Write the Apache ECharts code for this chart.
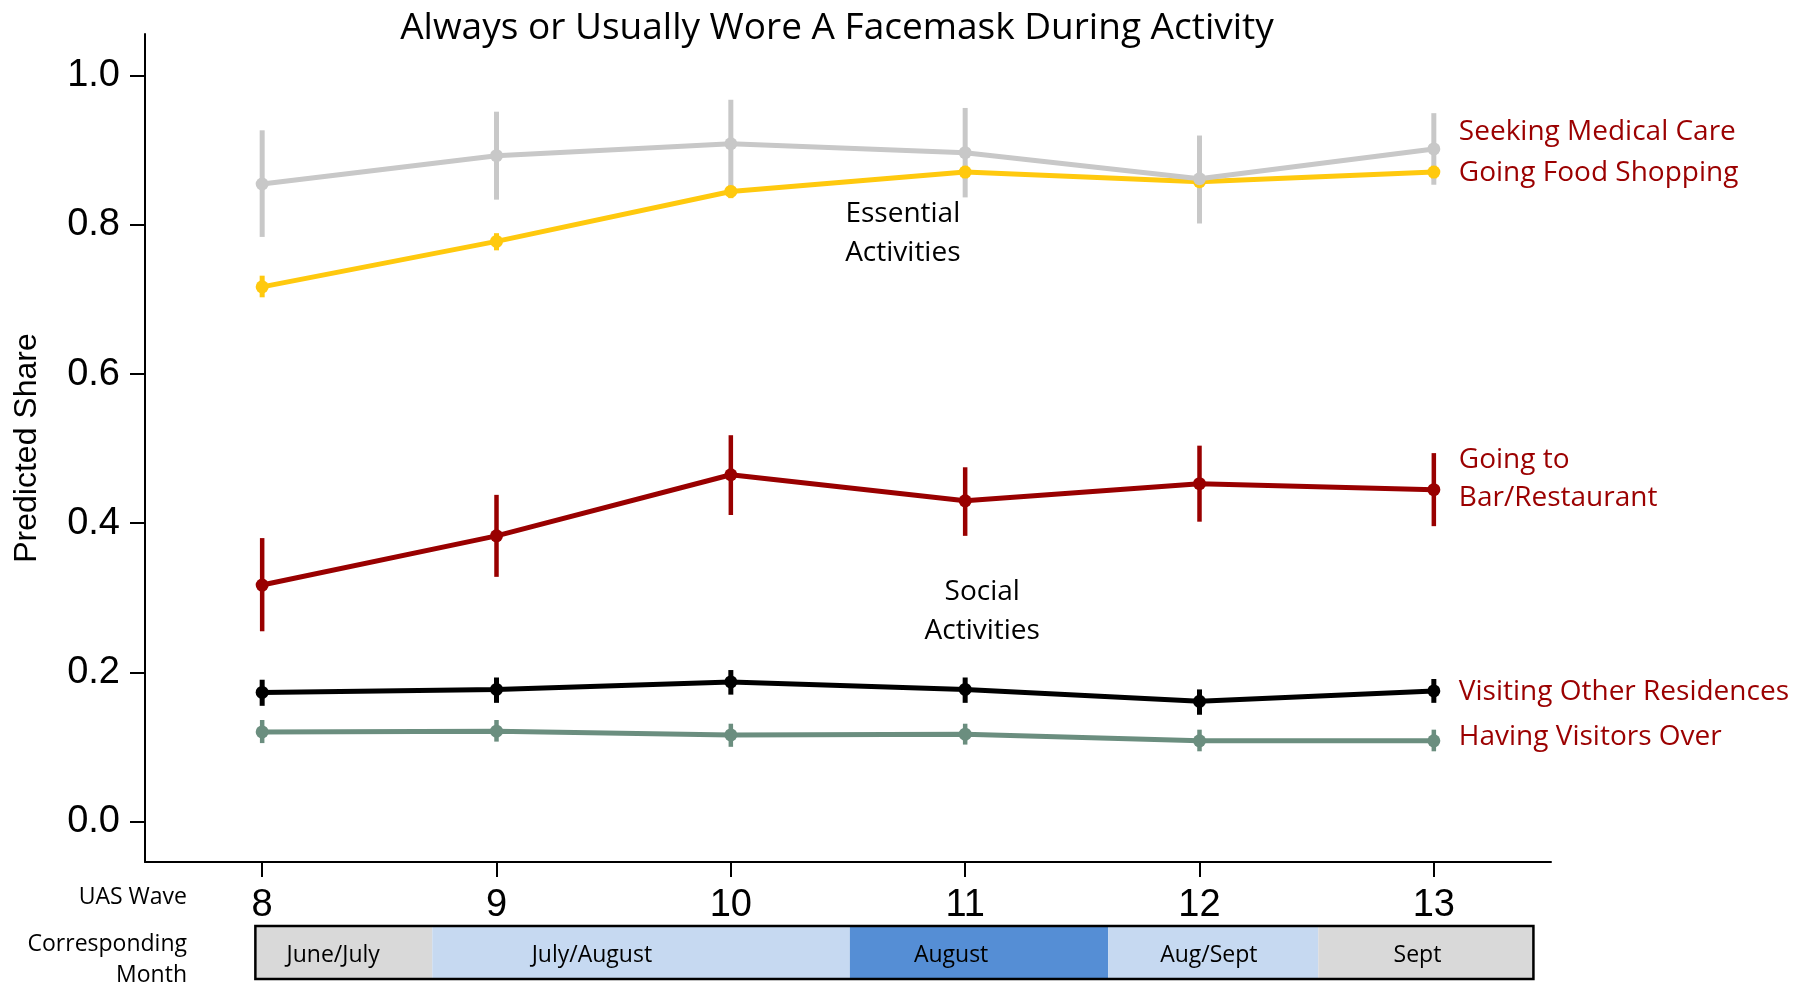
<!DOCTYPE html>
<html>
<head>
<meta charset="utf-8">
<title>Facemask</title>
<script src="https://cdn.jsdelivr.net/npm/echarts@6/dist/echarts.min.js"></script>
<style>
  html, body { margin: 0; padding: 0; background: #fff; }
  #chart { width: 1804px; height: 984px; }
</style>
</head>
<body>
<div id="chart"></div>
<script>
// UAS waves on the x axis
const waves = [8, 9, 10, 11, 12, 13];
const yTicks = [0, 0.2, 0.4, 0.6, 0.8, 1.0];

// predicted share + 95% bounds
const medical = [0.855, 0.893, 0.909, 0.897, 0.862, 0.902];
const medicalLo = [0.784, 0.834, 0.850, 0.837, 0.802, 0.854];
const medicalHi = [0.927, 0.952, 0.968, 0.957, 0.920, 0.950];

const food = [0.717, 0.778, 0.845, 0.871, 0.858, 0.871];
const foodLo = [0.703, 0.766, 0.836, 0.862, 0.849, 0.862];
const foodHi = [0.732, 0.789, 0.854, 0.880, 0.867, 0.880];

const barRest = [0.317, 0.383, 0.465, 0.430, 0.453, 0.445];
const barRestLo = [0.255, 0.328, 0.411, 0.383, 0.402, 0.396];
const barRestHi = [0.380, 0.438, 0.518, 0.475, 0.504, 0.494];

const visiting = [0.173, 0.177, 0.187, 0.177, 0.161, 0.175];
const visitingLo = [0.155, 0.159, 0.170, 0.159, 0.143, 0.159];
const visitingHi = [0.190, 0.193, 0.203, 0.193, 0.177, 0.191];

const visitors = [0.120, 0.121, 0.116, 0.117, 0.108, 0.108];
const visitorsLo = [0.105, 0.107, 0.100, 0.103, 0.094, 0.094];
const visitorsHi = [0.136, 0.136, 0.131, 0.131, 0.123, 0.123];

// corresponding month strip (in wave units)
const months = ["June/July", "July/August", "August", "Aug/Sept", "Sept"];
const monthStart = [7.971, 8.726, 10.508, 11.61, 12.507];
const monthEnd = [8.726, 10.508, 11.61, 12.507, 13.425];
const monthLabelX = [8.303, 9.407, 10.94, 12.04, 12.93];

// group notes inside the plot
const notes = ["Essential\nActivities", "Social\nActivities"];
const noteX = [10.734, 11.073];
const noteY = [0.788, 0.281];

const textFont = "Open Sans";
const axisFont = "Liberation Sans";
const labelRed = "#9b0000";
const monthColors = ["#d9d9d9", "#c6d9f1", "#558ed5", "#c6d9f1", "#d9d9d9"];

function pairs(vals) {
  return waves.map(function (w, i) { return [w, vals[i]]; });
}

function errorBars(lo, hi, color, width) {
  return {
    type: "custom",
    silent: true,
    data: waves.map(function (w, i) { return [w, lo[i], hi[i]]; }),
    renderItem: function (params, api) {
      const a = api.coord([api.value(0), api.value(1)]);
      const b = api.coord([api.value(0), api.value(2)]);
      return {
        type: "line",
        shape: { x1: a[0], y1: a[1], x2: b[0], y2: b[1] },
        style: { stroke: color, lineWidth: width },
      };
    },
  };
}

function lineSeries(name, vals, color, label, dy) {
  return {
    type: "line",
    name: name,
    data: pairs(vals),
    symbol: "circle",
    symbolSize: 13,
    itemStyle: { color: color },
    lineStyle: { color: color, width: 5 },
    endLabel: {
      show: true,
      formatter: label,
      color: labelRed,
      fontFamily: textFont,
      fontSize: 28,
      lineHeight: 38,
      distance: 25,
      offset: [0, dy],
    },
  };
}

const chart = echarts.init(document.getElementById("chart"));

const option = {
  animation: false,
  backgroundColor: "#fff",
  title: {
    text: "Always or Usually Wore A Facemask During Activity",
    left: 832,
    top: 5,
    textAlign: "center",
    textStyle: {
      fontFamily: textFont,
      fontSize: 37,
      fontWeight: "normal",
      color: "#000",
    },
  },
  grid: [
    { left: 145, right: 253, top: 34, bottom: 122 },
    { left: 145, right: 253, top: 926, height: 53 },
  ],
  xAxis: [
    {
      type: "value",
      gridIndex: 0,
      min: 7.5,
      max: 13.5,
      splitLine: { show: false },
      axisLine: { onZero: false, lineStyle: { color: "#000", width: 2 } },
      axisTick: { customValues: waves, length: 15, lineStyle: { color: "#000", width: 2 } },
      axisLabel: {
        customValues: waves,
        margin: 25,
        fontFamily: axisFont,
        fontSize: 38,
        color: "#000",
      },
    },
    { type: "value", gridIndex: 1, min: 7.5, max: 13.5, show: false },
  ],
  yAxis: [
    {
      type: "value",
      gridIndex: 0,
      min: -0.0545,
      max: 1.0562,
      name: "Predicted Share",
      nameLocation: "middle",
      nameGap: 102,
      nameTextStyle: { fontFamily: axisFont, fontSize: 32, color: "#000" },
      splitLine: { show: false },
      axisLine: { show: true, onZero: false, lineStyle: { color: "#000", width: 2 } },
      axisTick: { show: true, customValues: yTicks, length: 15, lineStyle: { color: "#000", width: 2 } },
      axisLabel: {
        customValues: yTicks,
        margin: 25,
        fontFamily: axisFont,
        fontSize: 38,
        color: "#000",
        formatter: function (v) { return v.toFixed(1); },
      },
    },
    { type: "value", gridIndex: 1, min: 0, max: 1, show: false },
  ],
  graphic: [
    {
      type: "text",
      x: 187,
      y: 897,
      style: { text: "UAS Wave", align: "right", verticalAlign: "middle", fontFamily: textFont, fontSize: 23, fill: "#000" },
    },
    {
      type: "text",
      x: 187,
      y: 960,
      style: { text: "Corresponding\nMonth", align: "right", verticalAlign: "middle", lineHeight: 31, fontFamily: textFont, fontSize: 23, fill: "#000" },
    },
  ],
  series: [
    errorBars(foodLo, foodHi, "#ffc90e", 5),
    lineSeries("Going Food Shopping", food, "#ffc90e", "Going Food Shopping", 0.6),
    errorBars(medicalLo, medicalHi, "#c8c8c8", 5),
    lineSeries("Seeking Medical Care", medical, "#c8c8c8", "Seeking Medical Care", -16.5),
    errorBars(barRestLo, barRestHi, "#990000", 4.5),
    lineSeries("Going to Bar/Restaurant", barRest, "#990000", "Going to\nBar/Restaurant", -10.3),
    errorBars(visitorsLo, visitorsHi, "#6b8e7f", 4.5),
    lineSeries("Having Visitors Over", visitors, "#6b8e7f", "Having Visitors Over", -4.2),
    errorBars(visitingLo, visitingHi, "#000", 5),
    lineSeries("Visiting Other Residences", visiting, "#000", "Visiting Other Residences", 0.8),
    {
      type: "custom",
      silent: true,
      data: notes.map(function (t, i) { return [noteX[i], noteY[i]]; }),
      renderItem: function (params, api) {
        const p = api.coord([api.value(0), api.value(1)]);
        return {
          type: "text",
          x: p[0],
          y: p[1],
          style: {
            text: notes[params.dataIndex],
            align: "center",
            verticalAlign: "middle",
            fontFamily: textFont,
            fontSize: 28,
            lineHeight: 39,
            fill: "#000",
          },
        };
      },
    },
    {
      type: "custom",
      silent: true,
      xAxisIndex: 1,
      yAxisIndex: 1,
      data: months.map(function (m, i) { return [monthStart[i], monthEnd[i], monthLabelX[i]]; }),
      renderItem: function (params, api) {
        const i = params.dataIndex;
        const p0 = api.coord([api.value(0), 1]);
        const p1 = api.coord([api.value(1), 0]);
        const t = api.coord([api.value(2), 0.45]);
        return {
          type: "group",
          children: [
            {
              type: "rect",
              shape: { x: p0[0], y: p0[1], width: p1[0] - p0[0], height: p1[1] - p0[1] },
              style: { fill: monthColors[i] },
            },
            {
              type: "text",
              x: t[0],
              y: t[1],
              style: { text: months[i], align: "center", verticalAlign: "middle", fontFamily: textFont, fontSize: 23, fill: "#000" },
            },
          ],
        };
      },
    },
    {
      type: "custom",
      silent: true,
      xAxisIndex: 1,
      yAxisIndex: 1,
      data: [[monthStart[0], monthEnd[monthEnd.length - 1]]],
      renderItem: function (params, api) {
        const p0 = api.coord([api.value(0), 1]);
        const p1 = api.coord([api.value(1), 0]);
        return {
          type: "rect",
          shape: { x: p0[0], y: p0[1], width: p1[0] - p0[0], height: p1[1] - p0[1] },
          style: { fill: "none", stroke: "#000", lineWidth: 2.5 },
        };
      },
    },
  ],
};

chart.setOption(option);
window.addEventListener("resize", function () {
  chart.resize();
});
</script>
</body>
</html>
